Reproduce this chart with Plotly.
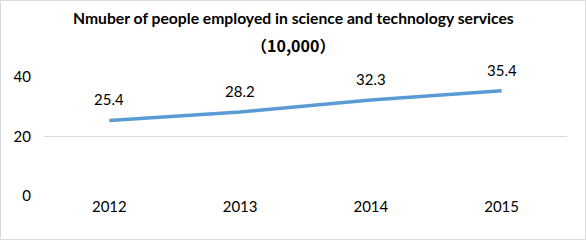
import plotly.graph_objects as go

years = ["2012", "2013", "2014", "2015"]
employed = [25.4, 28.2, 32.3, 35.4]
labels = ["25.4", "28.2", "32.3", "35.4"]
title_line1 = "Nmuber of people employed in science and technology services"
title_line2 = "（10,000）"

FONT = "Lato, Open Sans, sans-serif"
xpos = list(range(len(years)))
TITLE_X = (293 - 44) / 523

fig = go.Figure()
fig.add_trace(go.Scatter(
    x=xpos, y=employed, mode="lines",
    line=dict(color="#5B9BD5", width=3.5),
    hoverinfo="skip",
))
for x, y, t in zip(xpos, employed, labels):
    fig.add_annotation(x=x, y=y, xref="x", yref="y", text=t, showarrow=False,
                       yshift=21, font=dict(family=FONT, size=15, color="#000000"))

fig.add_annotation(xref="paper", yref="paper", x=TITLE_X, y=1, xanchor="center",
                   yanchor="middle", yshift=59, text="<b>" + title_line1 + "</b>",
                   showarrow=False, font=dict(family=FONT, size=15.7, color="#000000"))
fig.add_annotation(xref="paper", yref="paper", x=TITLE_X, y=1, xanchor="center",
                   yanchor="middle", yshift=32, text="<b>" + title_line2 + "</b>",
                   showarrow=False,
                   font=dict(family="Noto Sans CJK SC", size=16, color="#000000"))

fig.update_layout(
    width=586, height=240,
    margin=dict(l=44, r=19, t=77, b=44, autoexpand=False),
    paper_bgcolor="white", plot_bgcolor="white",
    showlegend=False,
    xaxis=dict(range=[-0.5, 3.5], tickvals=xpos, ticktext=years, automargin=False,
               showgrid=False, zeroline=False, showline=False, ticks="",
               tickfont=dict(family=FONT, size=15, color="#000000")),
    yaxis=dict(range=[0, 40], tickvals=[0, 20, 40], automargin=False, showgrid=True,
               gridcolor="#D9D9D9", gridwidth=1, zeroline=False, showline=False,
               ticks="", ticklabelstandoff=12,
               tickfont=dict(family=FONT, size=15, color="#000000")),
)
fig.add_shape(type="rect", xref="paper", yref="paper",
              x0=-43.5/523, x1=1+18.5/523, y0=-43.5/119, y1=1+76.5/119,
              line=dict(color="#D9D9D9", width=1))
fig.write_html("out.html", config={"displayModeBar": False},
               post_script="document.body.style.margin='0';")
